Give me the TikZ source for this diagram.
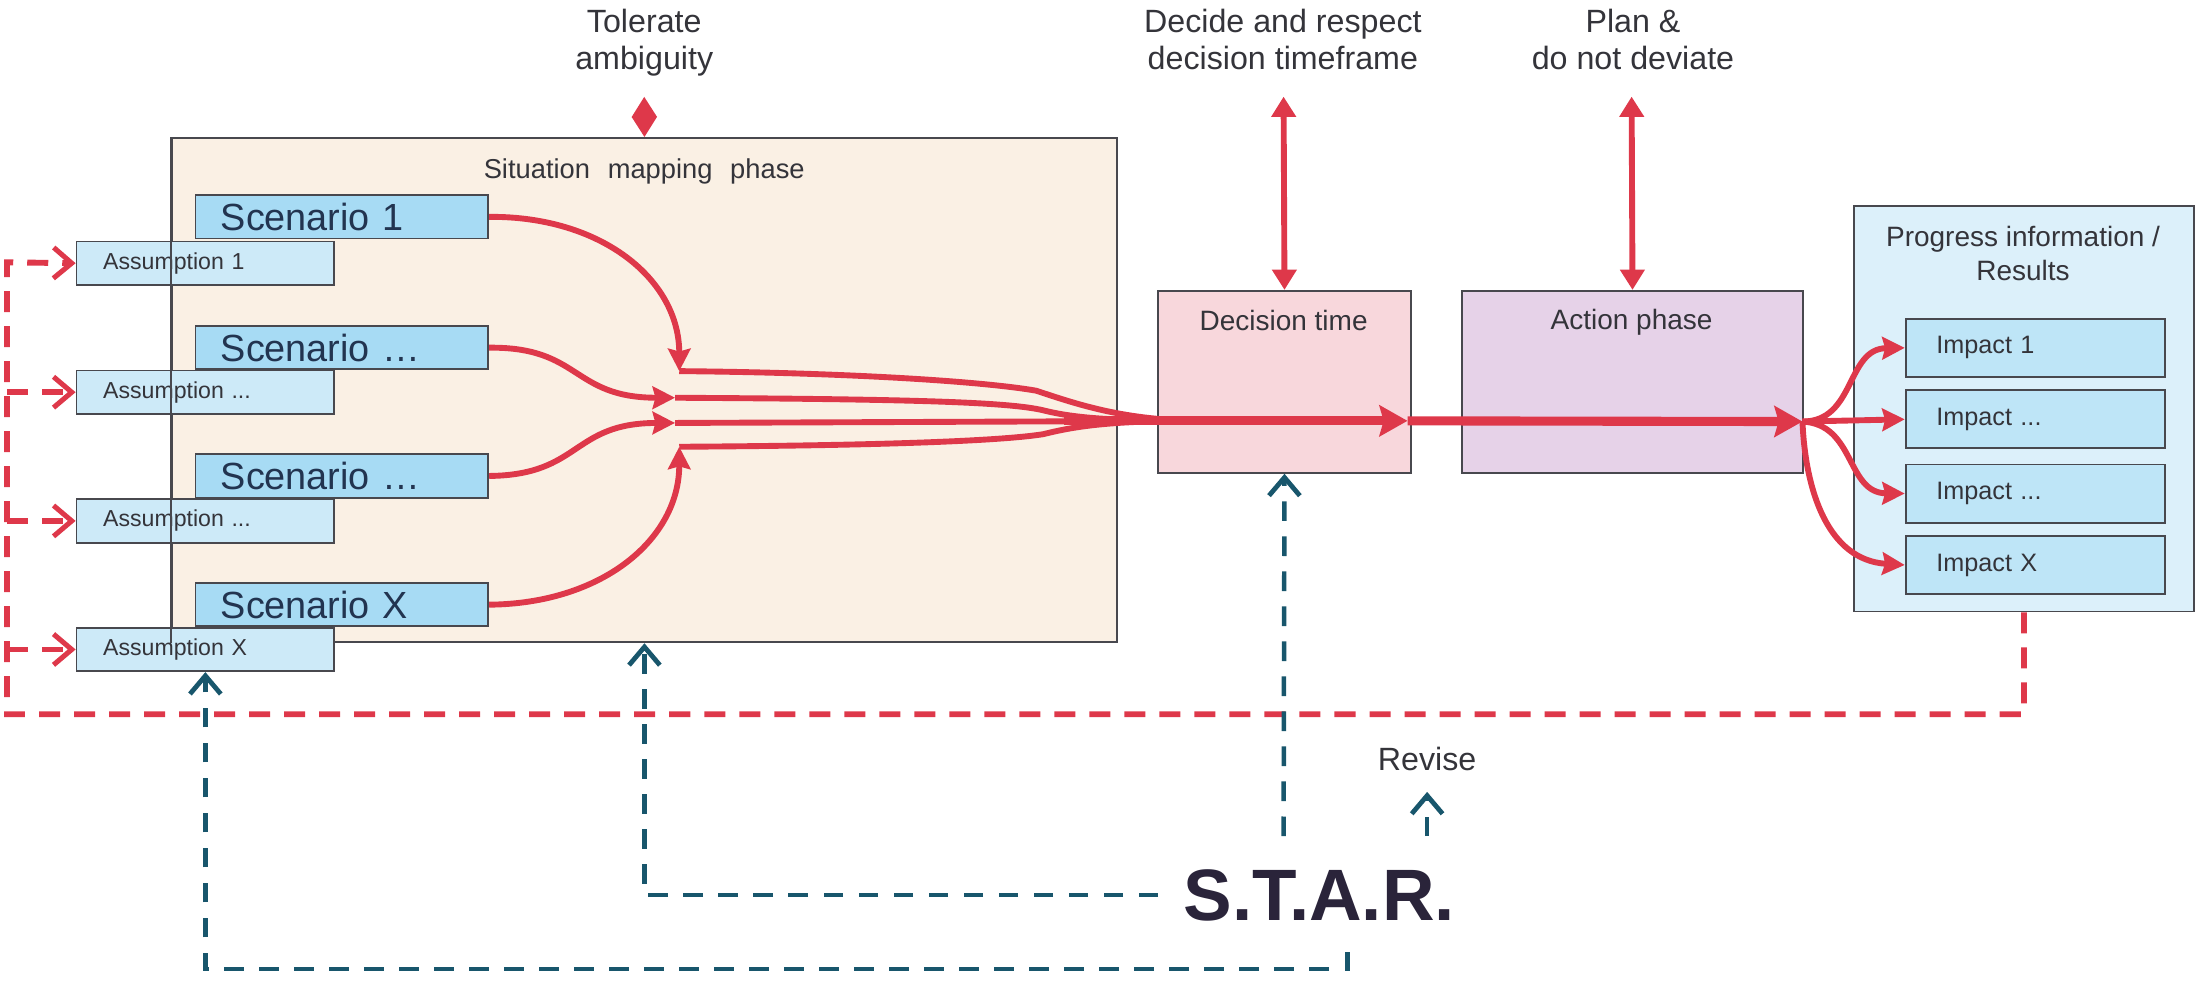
\documentclass[tikz,border=0pt]{standalone}
\usepackage{fontspec}
\setmainfont{Liberation Sans}
\usetikzlibrary{arrows.meta}
\definecolor{redc}{RGB}{222,56,74}
\definecolor{tealc}{RGB}{24,86,108}
\definecolor{bordc}{RGB}{72,72,78}
\definecolor{txtc}{RGB}{52,52,58}
\definecolor{scentxt}{RGB}{34,52,80}
\definecolor{starc}{RGB}{42,36,58}
\definecolor{sitfill}{RGB}{250,240,228}
\definecolor{scenfill}{RGB}{167,219,244}
\definecolor{assfill}{RGB}{205,234,248}
\definecolor{decfill}{RGB}{248,215,220}
\definecolor{actfill}{RGB}{230,210,232}
\definecolor{progfill}{RGB}{220,240,250}
\definecolor{impfill}{RGB}{190,229,247}
\begin{document}
\begin{tikzpicture}[x=1pt,y=-1pt,
  box/.style={draw=bordc, line width=1.3pt, inner sep=0pt, anchor=north west},
  sitbox/.style={box, fill=sitfill, minimum width=675pt, minimum height=360pt},
  scenbox/.style={box, fill=scenfill, minimum height=31pt, text width=173pt, inner xsep=18pt, align=left, text=scentxt, font=\fontsize{27}{30}\selectfont},
  assbox/.style={box, fill=assfill, minimum height=31pt, text width=146pt, inner xsep=19pt, align=left, text=txtc, font=\fontsize{16.5}{19}\selectfont},
  phasebox/.style={box, minimum height=130pt},
  impbox/.style={box, fill=impfill, minimum height=41.5pt, text width=141pt, inner xsep=22pt, align=left, text=txtc, font=\fontsize{18}{21}\selectfont},
  lbl/.style={text=txtc, inner sep=0pt},
  boxlbl/.style={lbl, font=\fontsize{20}{24}\selectfont},
  toplbl/.style={lbl, font=\fontsize{23}{26}\selectfont, align=center, anchor=north},
  redline/.style={draw=redc, line width=4.2pt},
  redarrow/.style={redline, -{Stealth[length=16pt, width=16pt, inset=2pt]}},
  redmain/.style={draw=redc, line width=6.5pt, -{Stealth[length=20pt, width=22pt, inset=3pt]}},
  redboth/.style={redline, {Stealth[length=14.5pt, width=17pt, inset=0pt]}-{Stealth[length=14.5pt, width=17pt, inset=0pt]}},
  reddash/.style={draw=redc, line width=4.2pt, dash pattern=on 15pt off 10pt},
  reddarrow/.style={reddash, -{Straight Barb[length=13pt, width=22pt, line width=3.6pt]}},
  tealdash/.style={draw=tealc, line width=3.2pt, dash pattern=on 14pt off 11pt},
  tealarrow/.style={tealdash, -{Straight Barb[length=13pt, width=22pt, line width=3.4pt]}}
]
\useasboundingbox (0,0) rectangle (1568,700);

% ---- boxes ----
\node[sitbox] (sit) at (122,98) {};
\node[scenbox] (s1) at (139,138.7) {Scenario 1};
\node[scenbox] (s2) at (139,232.1) {Scenario …};
\node[scenbox] (s3) at (139,323.7) {Scenario …};
\node[scenbox] (s4) at (139,415.6) {Scenario X};
\node[assbox] (a1) at (54,171.8) {Assumption 1};
\node[assbox] (a2) at (54,263.9) {Assumption ...};
\node[assbox] (a3) at (54,355.8) {Assumption ...};
\node[assbox] (a4) at (54,447.6) {Assumption X};
\draw[draw=bordc, line width=1.3pt] (sit.north west) -- (sit.south west);
\node[lbl, font=\fontsize{19.5}{23}\selectfont, anchor=base] (sitlbl) at (460,127.3) {Situation\hspace{0.65em}mapping\hspace{0.65em}phase};

\node[phasebox, fill=decfill, minimum width=181pt] (dec) at (826,207) {};
\node[phasebox, fill=actfill, minimum width=244pt] (act) at (1043,207) {};
\node[boxlbl, anchor=base] (declbl) at (916.5,236) {Decision time};
\node[boxlbl, anchor=base] (actlbl) at (1165,235) {Action phase};

\node[box, fill=progfill, minimum width=243pt, minimum height=289.5pt] (prog) at (1323,146.5) {};
\node[boxlbl, align=center, anchor=north, font=\fontsize{20}{24}\selectfont] (proglbl) at (1444.5,161.5) {Progress information /\\Results};
\node[impbox] (i1) at (1360,227) {Impact 1};
\node[impbox] (i2) at (1360,278) {Impact ...};
\node[impbox] (i3) at (1360,331) {Impact ...};
\node[impbox] (i4) at (1360,382) {Impact X};

% ---- top labels ----
\node[toplbl] (tol) at (460,6.5) {Tolerate\\ambiguity};
\node[toplbl] (decide) at (916,6.5) {Decide and respect\\decision timeframe};
\node[toplbl] (plan) at (1166,6.5) {Plan \&\\do not deviate};
\coordinate (tolA) at (460,69);
\coordinate (decA) at (916.5,69);
\coordinate (planA) at (1165,69);
\draw[redboth] (tolA) -- (sit.north);
\draw[redboth] (decA) -- (dec.north);
\draw[redboth] (planA) -- (act.north);

% ---- converging red arrows ----
\coordinate (c1) at (485,265);
\coordinate (c2) at (482,284);
\coordinate (c3) at (482,302);
\coordinate (c4) at (485,319);
\coordinate (mrg) at (850,300.5);
\coordinate (mrg0) at (760,300.5);
\coordinate (dtip) at (1005,300.5);
\coordinate (fan) at (1287,301);
\draw[redarrow] (s1.east) .. controls (430,154.2) and (485,200) .. (c1);
\draw[redarrow] (s2.east) .. controls (415,247.6) and (408,284) .. (c2);
\draw[redarrow] (s3.east) .. controls (415,339.2) and (408,302) .. (c3);
\draw[redarrow] (s4.east) .. controls (430,431.1) and (485,385) .. (c4);
\draw[redline] (c1) .. controls (600,266) and (700,272) .. (740,279) .. controls (770,289) and (800,299) .. (mrg);
\draw[redline] (c2) .. controls (650,285) and (720,287) .. (745,293) .. controls (765,298) and (790,300.5) .. (mrg);
\draw[redline] (c3) -- (mrg);
\draw[redline] (c4) .. controls (650,318) and (720,314) .. (745,310) .. controls (765,305) and (790,300.5) .. (mrg);
\draw[redmain] (mrg0) -- (dtip);
\draw[redmain] (dtip) -- (fan);

% ---- fan to impacts ----
\draw[redarrow] (fan) .. controls (1325,301) and (1318,249) .. (i1.west);
\draw[redarrow] (fan) -- (i2.west);
\draw[redarrow] (fan) .. controls (1325,303) and (1318,352) .. (i3.west);
\draw[redarrow] (fan) .. controls (1289,350) and (1305,400) .. (i4.west);

% ---- red feedback ----
\coordinate (fbBot) at (5,510);
\coordinate (fbTop) at (5,187.3);
\draw[reddarrow] (prog.south) |- (fbBot) -- (fbTop) -- (a1.west);
\draw[reddarrow] (fbTop |- a2.west) -- (a2.west);
\draw[reddarrow] (fbTop |- a3.west) -- (a3.west);
\draw[reddarrow] (fbTop |- a4.west) -- (a4.west);

% ---- S.T.A.R. ----
\node[font=\bfseries\fontsize{52}{60}\selectfont, text=starc, anchor=base west, inner xsep=18pt, inner ysep=0pt] (star) at (827,657) {S.T.A.R.};
\node[lbl, font=\fontsize{23}{26}\selectfont, anchor=base, inner sep=2pt] (revise) at (1019,550) {Revise};
\coordinate (stTop) at (916.5,597);
\coordinate (revFoot) at (1019,597);
\coordinate (stBot) at (962,680);
\coordinate (botR) at (962,692);
\draw[tealarrow] (star.west) -| (sit.south);
\draw[tealarrow] (stTop) -- (dec.south);
\draw[tealarrow, shorten >=13pt] (revFoot) -- (revise.south);
\draw[tealarrow] (stBot) -- (botR) -| (a4.south);
\end{tikzpicture}
\end{document}
